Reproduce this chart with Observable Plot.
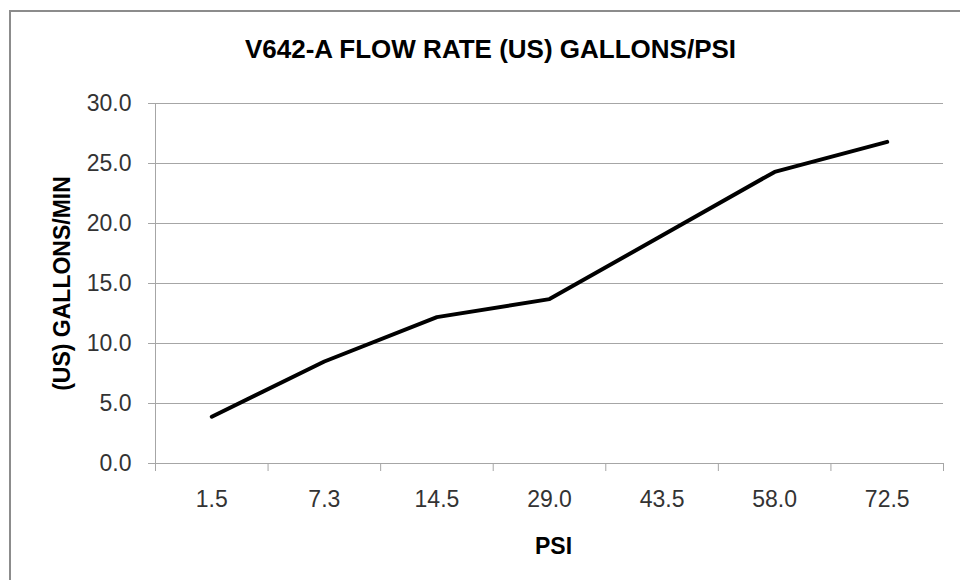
<!DOCTYPE html>
<html>
<head>
<meta charset="utf-8">
<script src="https://cdn.jsdelivr.net/npm/d3@7"></script>
<script src="https://cdn.jsdelivr.net/npm/@observablehq/plot@0.6"></script>
<style>
  html, body { margin: 0; padding: 0; background: #fff; }
  #wrap { position: relative; width: 960px; height: 580px; overflow: hidden; background: #fff; }
  #frame { position: absolute; left: 9px; top: 10px; width: 1000px; height: 600px;
           border-left: 2px solid #8c8c8c; border-top: 2px solid #8c8c8c; box-sizing: border-box; }
  #chart { position: absolute; left: 0; top: 0; }
</style>
</head>
<body>
<div id="wrap"><div id="frame"></div><div id="chart"></div></div>
<script>
// ---- data ----
const psiLabels = ["1.5", "7.3", "14.5", "29.0", "43.5", "58.0", "72.5"];
const flowRates = [3.9, 8.5, 12.2, 13.7, 19.0, 24.3, 26.8];
const yTicks = [0, 5, 10, 15, 20, 25, 30];
const chartTitle = "V642-A FLOW RATE (US) GALLONS/PSI";
const yTitle = "(US) GALLONS/MIN";
const xTitle = "PSI";

const rows = flowRates.map((v, i) => ({pos: i + 0.5, psi: psiLabels[i], flow: v}));
const boundaries = d3.range(0, psiLabels.length + 1);
const centers = psiLabels.map((_, i) => i + 0.5);

const gridColor = "#a6a6a6";
const font = "'Liberation Sans', Arial, sans-serif";

const chart = Plot.plot({
  width: 960,
  height: 580,
  marginLeft: 155,
  marginRight: 17,
  marginTop: 103,
  marginBottom: 117,
  style: {fontFamily: font, fontSize: "23px", background: "transparent", color: "#222", overflow: "visible"},
  x: {type: "linear", domain: [0, psiLabels.length], label: null},
  y: {domain: [0, 30], label: null},
  marks: [
    Plot.gridY(yTicks, {stroke: gridColor, strokeOpacity: 1, strokeWidth: 1}),
    Plot.ruleX([0], {stroke: gridColor, strokeWidth: 1}),
    Plot.ruleY([0], {stroke: gridColor, strokeWidth: 1}),
    Plot.axisY(yTicks, {tickSize: 7, tickPadding: 17, tickFormat: d => d.toFixed(1),
      stroke: gridColor, fill: "#333", fontSize: 23, label: null}),
    Plot.axisX(boundaries, {tickSize: 8, tickFormat: () => "", stroke: gridColor, label: null}),
    Plot.axisX(centers, {tickSize: 0, tickPadding: 27, tickFormat: d => psiLabels[Math.floor(d)],
      fill: "#333", fontSize: 23, label: null}),
    Plot.line(rows, {x: "pos", y: "flow", stroke: "#000", strokeWidth: 4,
      strokeLinejoin: "round", strokeLinecap: "round"}),
    Plot.text([chartTitle], {frameAnchor: "top", textAnchor: "middle", lineAnchor: "middle",
      dx: -59, dy: -53.5, fontSize: 26, fontWeight: "bold", fill: "#000"}),
    Plot.text([yTitle], {frameAnchor: "left", textAnchor: "middle", lineAnchor: "middle",
      rotate: -90, dx: -93, fontSize: 23, fontWeight: "bold", fill: "#000"}),
    Plot.text([xTitle], {frameAnchor: "bottom", textAnchor: "middle", lineAnchor: "middle",
      dx: 4, dy: 83, fontSize: 23, fontWeight: "bold", fill: "#000"})
  ]
});
document.getElementById("chart").appendChild(chart);
</script>
</body>
</html>
